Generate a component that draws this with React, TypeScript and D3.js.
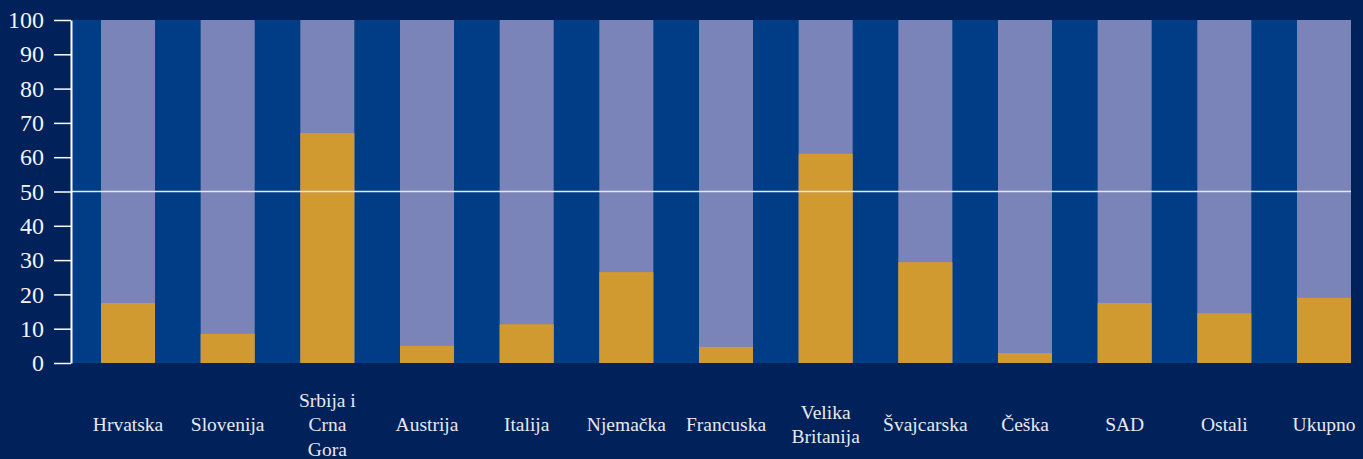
import React, { useRef, useEffect } from 'react'
import * as d3 from 'd3'

const countries = [
  'Hrvatska', 'Slovenija', 'Srbija i|Crna|Gora', 'Austrija', 'Italija', 'Njemačka',
  'Francuska', 'Velika|Britanija', 'Švajcarska', 'Češka', 'SAD', 'Ostali', 'Ukupno',
]
const shareValues = [17.5, 8.5, 67, 5, 11.3, 26.5, 4.7, 61, 29.4, 2.9, 17.5, 14.5, 19]
const yTicks = [0, 10, 20, 30, 40, 50, 60, 70, 80, 90, 100]

const W = 1363
const H = 459

const App = () => {
  const svgRef = useRef<SVGSVGElement>(null)

  useEffect(() => {
    const svg = d3.select(svgRef.current)
    svg.selectAll('*').remove()

    const font = '"Times New Roman", "Liberation Serif", Tinos, serif'
    const left = 72
    const right = 1351
    const top = 20
    const bottom = 363

    svg.append('rect').attr('width', W).attr('height', H).attr('fill', '#00215a')
    svg
      .append('rect')
      .attr('x', left)
      .attr('y', top)
      .attr('width', right - left)
      .attr('height', bottom - top)
      .attr('fill', '#003d87')

    const x = d3
      .scaleBand()
      .domain(countries)
      .range([101, right])
      .paddingInner(0.458)
      .paddingOuter(0)

    const y = d3.scaleLinear().domain([0, 100]).range([bottom, top])

    // full 100% bar behind, gold share on top of it
    svg
      .selectAll('rect.rest')
      .data(countries)
      .enter()
      .append('rect')
      .attr('x', (d) => x(d)!)
      .attr('y', y(100))
      .attr('width', x.bandwidth())
      .attr('height', y(0) - y(100))
      .attr('fill', '#7a84b8')

    svg
      .selectAll('rect.share')
      .data(shareValues)
      .enter()
      .append('rect')
      .attr('x', (_, i) => x(countries[i])!)
      .attr('y', (d) => y(d))
      .attr('width', x.bandwidth())
      .attr('height', (d) => y(0) - y(d))
      .attr('fill', '#d09a30')

    // reference line at 50
    svg
      .append('line')
      .attr('x1', left)
      .attr('x2', right)
      .attr('y1', y(50))
      .attr('y2', y(50))
      .attr('stroke', '#e8e8f0')
      .attr('stroke-width', 1.5)

    const yAxis = svg
      .append('g')
      .attr('transform', `translate(${left - 1},0)`)
      .call(d3.axisLeft(y).tickValues(yTicks).tickSize(17).tickPadding(10).tickSizeOuter(0))
    yAxis.select('.domain').attr('stroke', '#ffffff').attr('stroke-width', 2)
    yAxis.selectAll('.tick line').attr('stroke', '#ffffff').attr('stroke-width', 1.5)
    yAxis
      .selectAll('.tick text')
      .attr('fill', '#f4f4f8')
      .attr('font-family', font)
      .attr('font-size', 24)

    // x labels, multi-line
    const labels = svg
      .selectAll('text.xl')
      .data(countries)
      .enter()
      .append('text')
      .attr('text-anchor', 'middle')
      .attr('fill', '#e8e8f0')
      .attr('font-family', font)
      .attr('font-size', 19.5)
      .attr('transform', (d) => `translate(${x(d)! + x.bandwidth() / 2},0)`)

    labels.each(function (d) {
      const parts = d.split('|')
      const lh = 24.5
      const first = 431 - ((parts.length - 1) * lh) / 2
      d3.select(this)
        .selectAll('tspan')
        .data(parts)
        .enter()
        .append('tspan')
        .attr('x', 0)
        .attr('y', (_, i) => first + i * lh)
        .text((p) => p)
    })
  }, [])

  return <svg ref={svgRef} width={W} height={H} style={{ display: 'block', position: 'absolute', left: 0, top: 0 }} />
}

export default App
